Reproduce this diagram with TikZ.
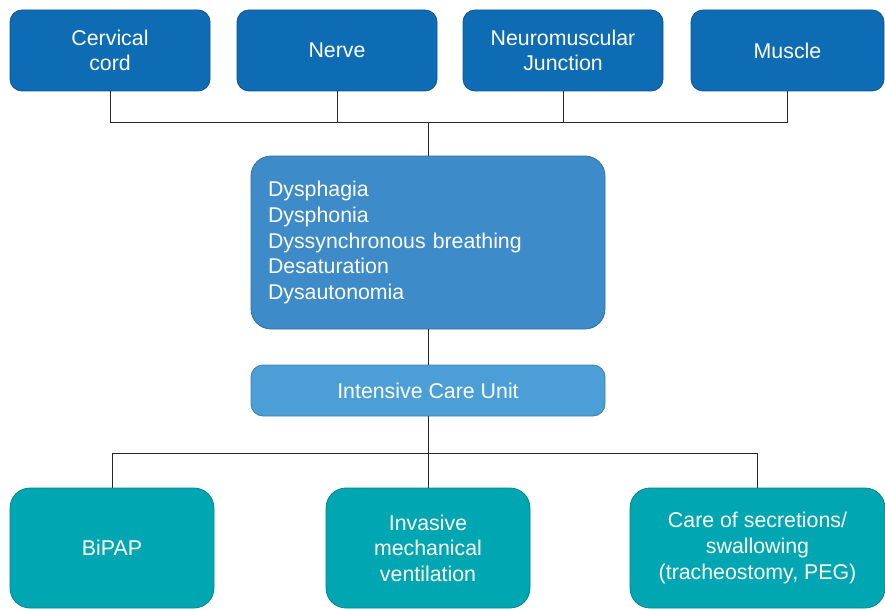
\documentclass[tikz,border=0pt]{standalone}
\usepackage{fontspec}
\setmainfont{Liberation Sans}
\definecolor{topblue}{RGB}{14,108,180}
\definecolor{midblue}{RGB}{61,139,200}
\definecolor{icublue}{RGB}{76,159,214}
\definecolor{teal}{RGB}{0,167,178}
\begin{document}
\begin{tikzpicture}[x=0.75pt,y=-0.75pt,
        box/.style={draw, line width=0.6pt, text=white, align=center, font=\fontsize{16}{19.2}\selectfont, inner sep=0pt},
        topbox/.style={box, rounded corners=9pt, fill=topblue, draw=topblue!80!black, minimum width=150pt, minimum height=60.75pt},
        carebox/.style={box, rounded corners=15pt, fill=teal, draw=teal!80!black, minimum height=90pt},
        link/.style={draw=black!85, line width=0.75pt}]
        \useasboundingbox (0,0) rectangle (885,610);

        \node[topbox] (cc) at (110,50.5) {Cervical\\cord};
        \node[topbox] (nerve) at (337,50.5) {Nerve};
        \node[topbox] (nmj) at (563,50.5) {Neuromuscular\\Junction};
        \node[topbox, minimum width=144.75pt] (muscle) at (787.5,50.5) {Muscle};

        \node[box, rounded corners=15pt, fill=midblue, draw=midblue!80!black, align=left, text width=240pt, inner xsep=12.75pt, minimum height=129.75pt] (sym) at (428,242.5) {Dysphagia\\Dysphonia\\Dyssynchronous breathing\\Desaturation\\Dysautonomia};
        \node[box, rounded corners=9pt, fill=icublue, draw=icublue!80!black, minimum width=265.5pt, minimum height=38.25pt] (icu) at (428,390.5) {Intensive Care Unit};

        \node[carebox, minimum width=153pt] (bipap) at (112,548) {BiPAP};
        \node[carebox, minimum width=153pt] (imv) at (428,548) {Invasive\\mechanical\\ventilation};
        \node[carebox, minimum width=191.25pt] (care) at (757.5,548) {Care of secretions/\\swallowing\\(tracheostomy, PEG)};

        \coordinate (topbus) at (428,122);
        \coordinate (botbus) at (428,453);

        \draw[link] (cc.south) |- (topbus);
        \draw[link] (muscle.south) |- (topbus);
        \draw[link] (nerve.south) -- (nerve.south |- topbus);
        \draw[link] (nmj.south) -- (nmj.south |- topbus);
        \draw[link] (topbus) -- (sym.north);
        \draw[link] (sym.south) -- (icu.north);
        \draw[link] (icu.south) -- (botbus);
        \draw[link] (botbus) -| (bipap.north);
        \draw[link] (botbus) -| (care.north);
        \draw[link] (botbus) -- (imv.north);
    \end{tikzpicture}
\end{document}
